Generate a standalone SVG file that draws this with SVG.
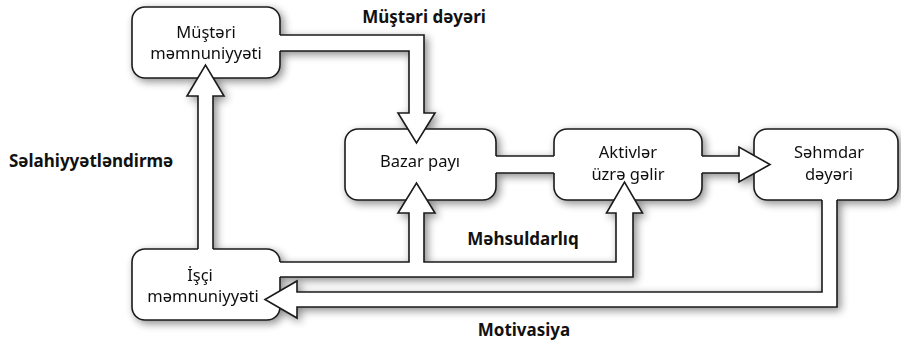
<svg xmlns="http://www.w3.org/2000/svg" width="901" height="341" viewBox="0 0 901 341">
  <defs>
    <filter id="shadow" x="-5%" y="-10%" width="115%" height="125%">
      <feGaussianBlur in="SourceAlpha" stdDeviation="4"/>
      <feOffset dx="3" dy="3" result="blur"/>
      <feComponentTransfer><feFuncA type="linear" slope="0.45"/></feComponentTransfer>
      <feMerge><feMergeNode/><feMergeNode in="SourceGraphic"/></feMerge>
    </filter>
    <style>
      .box { fill: #ffffff; stroke: #1a1a1a; stroke-width: 1.6; }
      .fill { fill: #ffffff; stroke: none; }
      .line { fill: none; stroke: #1a1a1a; stroke-width: 1.6; stroke-linejoin: miter; }
      .txt { font-family: "Noto Sans", "Open Sans", sans-serif; font-size: 16.5px; fill: #111111; text-anchor: middle; }
      .lbl { font-family: "Noto Sans", "Open Sans", sans-serif; font-size: 17px; font-weight: bold; fill: #111111; }
    </style>
  </defs>
  <rect width="901" height="341" fill="#ffffff"/>

  <g filter="url(#shadow)">
    <g id="nodes">
      <g id="musteri-memnuniyyeti">
        <rect class="box" x="132" y="7" width="148" height="71" rx="13"/>
        <text class="txt" x="206" y="38">Müştəri</text>
        <text class="txt" x="206" y="59">məmnuniyyəti</text>
      </g>
      <g id="bazar-payi">
        <rect class="box" x="345" y="129" width="151" height="71" rx="13"/>
        <text class="txt" x="420" y="167">Bazar payı</text>
      </g>
      <g id="aktivler-uzre-gelir">
        <rect class="box" x="554" y="129" width="148" height="71" rx="13"/>
        <text class="txt" x="628" y="158">Aktivlər</text>
        <text class="txt" x="628" y="180">üzrə gəlir</text>
      </g>
      <g id="sehmdar-deyeri">
        <rect class="box" x="754" y="129" width="144" height="71" rx="13"/>
        <text class="txt" x="829" y="158">Səhmdar</text>
        <text class="txt" x="829" y="180">dəyəri</text>
      </g>
      <g id="isci-memnuniyyeti">
        <rect class="box" x="132" y="249" width="148" height="71" rx="13"/>
        <text class="txt" x="200" y="281">İşçi</text>
        <text class="txt" x="203" y="302">məmnuniyyəti</text>
      </g>
    </g>

    <g id="connectors">
      <!-- customer satisfaction -> market share -->
      <g id="c-musteri-bazar">
        <path class="fill" d="M278,35 H424 V113 H435 L416.5,143 L398,113 H409 V51 H278 Z"/>
        <path class="line" d="M280,35 H424 V113 H435 L416.5,143 L398,113 H409 V51 H280"/>
      </g>
      <!-- market share -> return on assets -->
      <g id="c-bazar-aktivler">
        <rect class="fill" x="494" y="156" width="62" height="17"/>
        <path class="line" d="M496,156 H554 M496,173 H554"/>
      </g>
      <!-- return on assets -> shareholder value -->
      <g id="c-aktivler-sehmdar">
        <path class="fill" d="M700,156 H739 V147 L770,164.5 L739,182 V173 H700 Z"/>
        <path class="line" d="M702,156 H739 V147 L770,164.5 L739,182 V173 H702"/>
      </g>
      <!-- employee satisfaction -> customer satisfaction -->
      <g id="c-isci-musteri">
        <path class="fill" d="M198,251 V96 H187 L205.5,65 L224,96 H213 V251 Z"/>
        <path class="line" d="M198,249 V96 H187 L205.5,65 L224,96 H213 V249"/>
      </g>
      <!-- employee satisfaction -> market share and return on assets -->
      <g id="c-isci-mehsuldarliq">
        <path class="fill" d="M278,262 H409 V213 H398 L416.5,183 L435,213 H424 V262 H616 V213 H606.5 L624.5,182 L642.5,213 H633 V277 H278 Z"/>
        <path class="line" d="M280,262 H409 V213 H398 L416.5,183 L435,213 H424 V262 H616 V213 H606.5 L624.5,182 L642.5,213 H633 V277 H280"/>
      </g>
      <!-- shareholder value -> employee satisfaction -->
      <g id="c-sehmdar-isci">
        <path class="fill" d="M822,198 V292 H297 V281 L265,299.5 L297,318 V307 H837 V198 Z"/>
        <path class="line" d="M822,200 V292 H297 V281 L265,299.5 L297,318 V307 H837 V200"/>
      </g>
    </g>
  </g>

  <g id="labels">
    <text class="lbl" x="424" y="23" text-anchor="middle">Müştəri dəyəri</text>
    <text class="lbl" x="9" y="167">Səlahiyyətləndirmə</text>
    <text class="lbl" x="523" y="245" text-anchor="middle">Məhsuldarlıq</text>
    <text class="lbl" x="524" y="336" text-anchor="middle">Motivasiya</text>
  </g>
</svg>
